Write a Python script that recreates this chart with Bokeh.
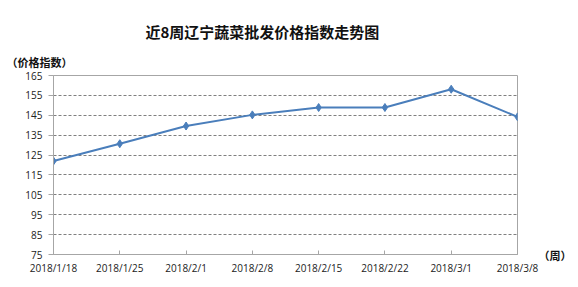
from bokeh.plotting import figure
from bokeh.models import FixedTicker, Range1d, Title, LinearAxis
from bokeh.embed import file_html
from bokeh.resources import INLINE

dates = ["2018/1/18", "2018/1/25", "2018/2/1", "2018/2/8", "2018/2/15", "2018/2/22", "2018/3/1", "2018/3/8"]
index_values = [122.0, 130.7, 139.6, 145.2, 148.9, 148.9, 158.1, 144.2]
y_ticks = [75, 85, 95, 105, 115, 125, 135, 145, 155, 165]

xs = list(range(len(dates)))

p = figure(width=578, height=287, output_backend="svg", toolbar_location=None,
           x_range=Range1d(0, len(dates) - 1), y_range=Range1d(75, 165),
           min_border_left=53, min_border_right=61, min_border_top=75, min_border_bottom=33)
p.background_fill_color = "white"
p.border_fill_color = "white"
p.outline_line_color = "#a6a6a6"
p.outline_line_width = 1

p.xgrid.grid_line_color = None
p.ygrid.grid_line_color = "#7f7f7f"
p.ygrid.grid_line_dash = "3 2"
p.ygrid.grid_line_width = 1

p.xaxis.ticker = FixedTicker(ticks=xs)
p.xaxis.major_label_overrides = {i: d for i, d in enumerate(dates)}
p.yaxis.ticker = FixedTicker(ticks=y_ticks)
for ax in (p.xaxis[0], p.yaxis[0]):
    ax.axis_line_color = "#a6a6a6"
    ax.major_tick_line_color = "#a6a6a6"
    ax.minor_tick_line_color = None
    ax.major_label_text_font = "Open Sans"
    ax.major_label_text_font_size = "10px"
    ax.major_label_text_color = "#222222"
p.xaxis.major_tick_out = 0
p.xaxis.major_tick_in = 4
p.xaxis.major_label_standoff = 6
p.yaxis.major_tick_out = 5
p.yaxis.major_tick_in = 0
p.yaxis.major_label_standoff = 6

p.line(xs, index_values, line_color="#4a7ebb", line_width=2.0)
p.scatter(xs, index_values, marker="diamond", size=8, fill_color="#4a7ebb", line_color="#4a7ebb")

p.add_layout(Title(text="（价格指数）", align="left", offset=-47, standoff=11,
                   text_font="Noto Sans CJK SC", text_font_size="11px", text_font_style="bold",
                   text_color="#111111"), "above")
p.add_layout(Title(text="近8周辽宁蔬菜批发价格指数走势图", align="left", offset=92, standoff=10,
                   text_font="Noto Sans CJK SC", text_font_size="15px", text_font_style="bold",
                   text_color="#111111"), "above")

# unit label "（周）" at the lower right, drawn as a single-tick right axis label
unit_axis = LinearAxis(ticker=FixedTicker(ticks=[75]), major_label_overrides={75: "（周）"})
unit_axis.axis_line_color = None
unit_axis.major_tick_line_color = None
unit_axis.minor_tick_line_color = None
unit_axis.major_tick_out = 0
unit_axis.major_tick_in = 0
unit_axis.major_label_standoff = 21
unit_axis.major_label_text_baseline = "top"
unit_axis.major_label_text_font = "Noto Sans CJK SC"
unit_axis.major_label_text_font_size = "11px"
unit_axis.major_label_text_font_style = "bold"
unit_axis.major_label_text_color = "#111111"
p.add_layout(unit_axis, "right")

open("out.html", "w").write(file_html(p, INLINE))
